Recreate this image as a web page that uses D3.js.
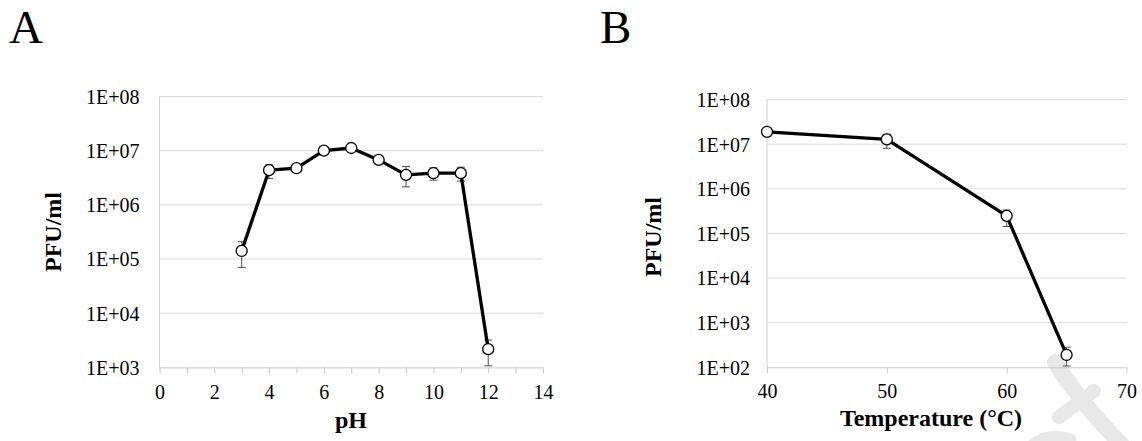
<!DOCTYPE html>
<html>
<head>
<meta charset="utf-8">
<script src="https://cdn.jsdelivr.net/npm/d3@7/dist/d3.min.js"></script>
<style>
  html, body { margin: 0; padding: 0; background: #fff; }
  svg { display: block; }
  text { font-family: "Liberation Serif", "DejaVu Serif", serif; fill: #000; }
</style>
</head>
<body>
<svg id="chart" width="1142" height="441"></svg>
<script>
// ---------- Data ----------
// Panel A: pH stability
const phValues   = [3, 4, 5, 6, 7, 8, 9, 10, 11, 12];
const phPFU      = [1.41e5, 4.37e6, 4.75e6, 1.0e7, 1.12e7, 6.76e6, 3.57e6, 3.85e6, 3.85e6, 2.17e3];
const phErrLow   = [7.0e4, 3.07e6, 4.4e6, 9.5e6, 1.06e7, 6.3e6, 2.15e6, 2.86e6, 2.74e6, 1.07e3];
const phErrHigh  = [2.09e5, 5.5e6, 5.1e6, 1.05e7, 1.18e7, 7.2e6, 5.1e6, 4.84e6, 4.96e6, 3.2e3];
const phXTicks   = [0, 2, 4, 6, 8, 10, 12, 14];
const phXMinor   = [0, 1, 2, 3, 4, 5, 6, 7, 8, 9, 10, 11, 12, 13, 14];
const phYTicks   = [1e3, 1e4, 1e5, 1e6, 1e7, 1e8];
const phYLabels  = ["1E+03", "1E+04", "1E+05", "1E+06", "1E+07", "1E+08"];

// Panel B: temperature stability
const tempValues  = [40, 50, 60, 65];
const tempPFU     = [1.9e7, 1.28e7, 2.48e5, 1.89e2];
const tempErrLow  = [1.86e7, 8.1e6, 1.43e5, 1.07e2];
const tempErrHigh = [1.94e7, 1.67e7, 3.37e5, 2.81e2];
const tempXTicks  = [40, 50, 60, 70];
const tempYTicks  = [1e2, 1e3, 1e4, 1e5, 1e6, 1e7, 1e8];
const tempYLabels = ["1E+02", "1E+03", "1E+04", "1E+05", "1E+06", "1E+07", "1E+08"];

const svg = d3.select("#chart");

// watermark fragment (background decoration)
const wm = svg.append("g").attr("fill", "none").attr("stroke", "#e8e8e8").attr("stroke-linecap", "round");
wm.append("path").attr("d", "M1055,362 Q1078,400 1122,445").attr("stroke-width", 16);
wm.append("path").attr("d", "M1094,391 L1059,417").attr("stroke-width", 14);
wm.append("path").attr("d", "M1030,448 Q1048,432 1070,440").attr("stroke-width", 13);

function panel(cfg) {
  const g = svg.append("g");
  const x = d3.scaleLinear().domain(cfg.xDomain).range([cfg.left, cfg.right]);
  const y = d3.scaleLog().domain(cfg.yDomain).range([cfg.bottom, cfg.top]);

  // gridlines
  g.append("g").selectAll("line").data(cfg.yTicks.slice(1)).join("line")
    .attr("x1", cfg.left).attr("x2", cfg.right)
    .attr("y1", d => y(d)).attr("y2", d => y(d))
    .attr("stroke", "#d9d9d9").attr("stroke-width", 1);

  // left axis line
  g.append("line")
    .attr("x1", cfg.left).attr("x2", cfg.left)
    .attr("y1", cfg.top).attr("y2", cfg.bottom)
    .attr("stroke", "#d0d0d0").attr("stroke-width", 1);

  // y tick labels
  const yAxis = d3.axisLeft(y).tickValues(cfg.yTicks)
    .tickFormat((d, i) => cfg.yLabels[i]).tickSize(0).tickPadding(cfg.yPad);
  const ya = g.append("g").attr("transform", `translate(${cfg.left},0)`).call(yAxis);
  ya.select(".domain").remove();
  ya.selectAll("text").attr("font-size", 20).attr("font-family", "Liberation Serif").attr("fill", "#000")
    .attr("dy", "0.34em");

  // x axis: tick marks
  const xAxis = d3.axisBottom(x).tickValues(cfg.xTickMarks).tickSize(6).tickFormat("");
  const xa = g.append("g").attr("transform", `translate(0,${cfg.bottom})`).call(xAxis);
  xa.select(".domain").attr("stroke", "#c8c8c8").attr("d", `M${cfg.left},0.5H${cfg.right}`);
  xa.selectAll(".tick line").attr("stroke", "#c8c8c8");

  const xLab = d3.axisBottom(x).tickValues(cfg.xTicks).tickSize(0).tickPadding(cfg.xPad);
  const xl = g.append("g").attr("transform", `translate(0,${cfg.bottom})`).call(xLab);
  xl.select(".domain").remove();
  xl.selectAll("text").attr("font-size", 20).attr("font-family", "Liberation Serif").attr("fill", "#000");

  // error bars
  const eb = g.append("g").attr("stroke", "#505050").attr("stroke-width", 1);
  cfg.xs.forEach((xv, i) => {
    const cx = x(xv);
    eb.append("line").attr("x1", cx).attr("x2", cx)
      .attr("y1", y(cfg.lo[i])).attr("y2", y(cfg.hi[i]));
    [cfg.lo[i], cfg.hi[i]].forEach(v => {
      eb.append("line").attr("x1", cx - 4).attr("x2", cx + 4)
        .attr("y1", y(v)).attr("y2", y(v));
    });
  });

  // line
  const pts = cfg.xs.map((xv, i) => [xv, cfg.ys[i]]);
  g.append("path").datum(pts)
    .attr("fill", "none").attr("stroke", "#000").attr("stroke-width", 3.3)
    .attr("stroke-linejoin", "round")
    .attr("d", d3.line().x(d => x(d[0])).y(d => y(d[1])));

  // markers
  g.append("g").selectAll("circle").data(pts).join("circle")
    .attr("cx", d => x(d[0])).attr("cy", d => y(d[1])).attr("r", 5.5)
    .attr("fill", "#fff").attr("stroke", "#000").attr("stroke-width", 1.3);

  // axis titles
  g.append("text")
    .attr("transform", `translate(${cfg.yTitleX},${cfg.yTitleY}) rotate(-90)`)
    .attr("text-anchor", "middle").attr("font-size", 24).attr("font-weight", "bold")
    .text("PFU/ml");
  g.append("text")
    .attr("x", cfg.xTitleX).attr("y", cfg.xTitleY)
    .attr("text-anchor", "middle").attr("font-size", 24).attr("font-weight", "bold")
    .text(cfg.xTitle);

  // panel letter
  g.append("text").attr("x", cfg.letterX).attr("y", 43)
    .attr("font-size", 47).text(cfg.letter);
}

panel({
  letter: "A", letterX: 9,
  left: 159.5, right: 543, top: 96.5, bottom: 367.4,
  xDomain: [0, 14], yDomain: [1e3, 1e8],
  xTicks: phXTicks, xTickMarks: phXMinor,
  yTicks: phYTicks, yLabels: phYLabels,
  xs: phValues, ys: phPFU, lo: phErrLow, hi: phErrHigh,
  yPad: 20, xPad: 17,
  yTitleX: 61, yTitleY: 232,
  xTitle: "pH", xTitleX: 351, xTitleY: 428
});

panel({
  letter: "B", letterX: 600,
  left: 767, right: 1126.5, top: 99.6, bottom: 367.3,
  xDomain: [40, 70], yDomain: [1e2, 1e8],
  xTicks: tempXTicks, xTickMarks: tempXTicks,
  yTicks: tempYTicks, yLabels: tempYLabels,
  xs: tempValues, ys: tempPFU, lo: tempErrLow, hi: tempErrHigh,
  yPad: 17, xPad: 17,
  yTitleX: 661, yTitleY: 237,
  xTitle: "Temperature (°C)", xTitleX: 931, xTitleY: 426
});
</script>
</body>
</html>
